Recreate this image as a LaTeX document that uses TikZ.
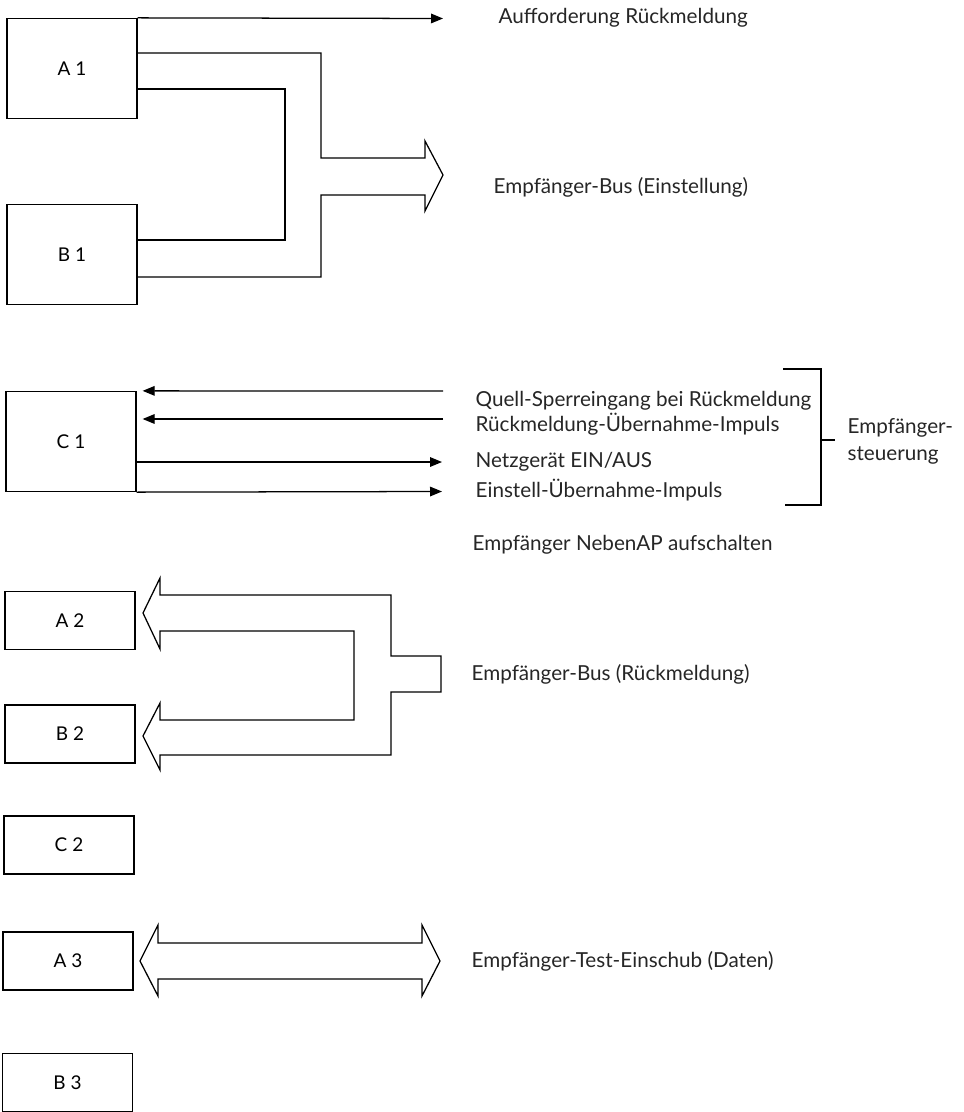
\documentclass[tikz,border=0pt]{standalone}
\usepackage{fontspec}
\setmainfont{Lato}
\usetikzlibrary{arrows.meta}
\tikzset{
  bigbox/.style={draw, minimum width=32.5mm, minimum height=25mm, inner sep=0pt, font=\fontsize{13.5}{15}\selectfont},
  smallbox/.style={draw, minimum width=32.5mm, minimum height=14.5mm, inner sep=0pt, font=\fontsize{13.5}{15}\selectfont},
  sig/.style={-{Triangle[length=3mm,width=2.4mm]}},
  lbl/.style={anchor=west, inner sep=0pt, text=black!85, font=\fontsize{14.7}{17}\selectfont}
}
\begin{document}
\begin{tikzpicture}[x=0.25mm, y=-0.25mm, line width=0.9pt]
\useasboundingbox (0,0) rectangle (963,1112);
\node[bigbox] (A1) at (72,68.5) {A 1};
\node[bigbox] (B1) at (72,254.5) {B 1};
\node[bigbox] (C1) at (71,441.5) {C 1};
\node[smallbox] (A2) at (70,620.5) {A 2};
\node[smallbox] (B2) at (70,734) {B 2};
\node[smallbox] (C2) at (69,845) {C 2};
\node[smallbox] (A3) at (68,961) {A 3};
\node[smallbox] (B3) at (67.5,1082.5) {B 3};
\coordinate (auf) at (443,18.5);
\coordinate (q1) at (443,391);
\coordinate (q2) at (443,419);
\coordinate (n1) at (442,462);
\coordinate (n2) at (442,491.5);
\draw[sig] (A1.north east) -- (auf);
\draw (A1.north east |- 0,53) -- (321,53) -- (321,158) -- (425,158) -- (425,141) -- (443,175)
  -- (425,211) -- (425,195) -- (321,195) -- (321,277) -- (B1.east |- 0,277);
\draw (A1.east |- 0,89) -- (285,89) -- (285,240) -- (B1.east |- 0,240);
\draw[sig] (q1) -- ([xshift=1.5mm]C1.north east);
\draw[sig] (q2) -- ([xshift=1.5mm]C1.east |- q2);
\draw[sig] (C1.east |- n1) -- (n1);
\draw[sig] (C1.south east) -- (n2);
\draw (783,369) -- (821,369) -- (821,505) -- (785,505);
\draw (821,440) -- (835,440);
\draw (160,595) -- (391,595) -- (391,656) -- (441,656) -- (441,692) -- (391,692) -- (391,755)
  -- (160,755) -- (160,770) -- (143,736) -- (160,703) -- (160,720) -- (354,720) -- (354,631)
  -- (160,631) -- (160,649) -- (143,613) -- (160,578) -- cycle;
\draw (140,961) -- (158,925) -- (158,943) -- (422,943) -- (422,925) -- (440,961) -- (422,996)
  -- (422,979) -- (158,979) -- (158,996) -- cycle;
\node[lbl] (t1) at (498,18) {Aufforderung Rückmeldung};
\node[lbl] (t2) at (493,187) {Empfänger-Bus (Einstellung)};
\node[lbl] (t3) at (475,401) {Quell-Sperreingang bei Rückmeldung};
\node[lbl] (t4) at (475,424) {Rückmeldung-Übernahme-Impuls};
\node[lbl] (t5) at (475,462) {Netzgerät EIN/AUS};
\node[lbl] (t6) at (475,490) {Einstell-Übernahme-Impuls};
\node[lbl] (t7) at (847,428) {Empfänger-};
\node[lbl] (t8) at (847,455) {steuerung};
\node[lbl] (t9) at (472,545) {Empfänger NebenAP aufschalten};
\node[lbl] (t10) at (471,674) {Empfänger-Bus (Rückmeldung)};
\node[lbl] (t11) at (471,961) {Empfänger-Test-Einschub (Daten)};
\end{tikzpicture}
\end{document}
